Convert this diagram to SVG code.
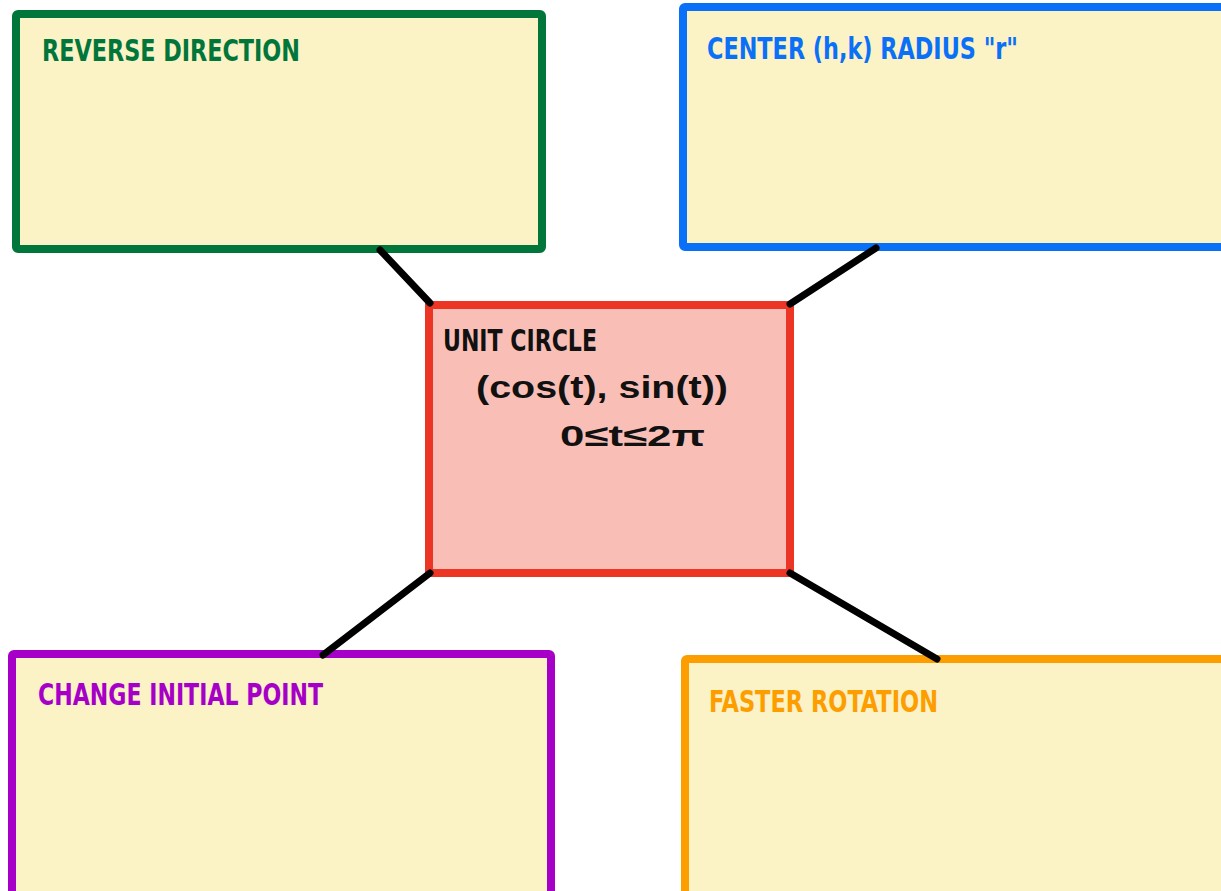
<svg xmlns="http://www.w3.org/2000/svg" width="1221" height="891" viewBox="0 0 1221 891">
<style>
.box{fill:#fbf2c6;stroke-width:8;stroke-linejoin:round}
.lbl{font-family:"Liberation Sans Narrow","DejaVu Sans Condensed","Liberation Sans",sans-serif;font-weight:bold;font-size:30px}
.hand{font-family:"Liberation Sans","DejaVu Sans",sans-serif;font-weight:bold;fill:#111}
.conn{stroke:#000;stroke-width:7;stroke-linecap:round;fill:none}
</style>
<rect width="1221" height="891" fill="#ffffff"/>
<g id="reverse-direction">
<rect class="box" x="16" y="14" width="526" height="235" rx="2" stroke="#00763b"/>
<text class="lbl" x="42" y="61" fill="#00763b" textLength="258" lengthAdjust="spacingAndGlyphs">REVERSE DIRECTION</text>
</g>
<g id="center-radius">
<rect class="box" x="683" y="7" width="542" height="240" rx="2" stroke="#0a70f8"/>
<text class="lbl" x="707" y="59" fill="#0a70f8" textLength="311" lengthAdjust="spacingAndGlyphs">CENTER (h,k) RADIUS "r"</text>
</g>
<g id="unit-circle">
<rect x="429" y="305" width="361" height="268" fill="#f9bfb7" stroke="#ec3524" stroke-width="8"/>
<text class="lbl" x="443" y="351" fill="#111" textLength="154" lengthAdjust="spacingAndGlyphs">UNIT CIRCLE</text>
<text class="hand" x="476" y="398" font-size="32" textLength="252" lengthAdjust="spacingAndGlyphs">(cos(t), sin(t))</text>
<text class="hand" x="560" y="446" font-size="30" textLength="145" lengthAdjust="spacingAndGlyphs">0≤t≤2π</text>
</g>
<g id="change-initial-point">
<rect class="box" x="12" y="654" width="539" height="245" rx="2" stroke="#a600c8"/>
<text class="lbl" x="38" y="705" fill="#a600c8" textLength="285" lengthAdjust="spacingAndGlyphs">CHANGE INITIAL POINT</text>
</g>
<g id="faster-rotation">
<rect class="box" x="685" y="659" width="540" height="240" rx="2" stroke="#fd9e00"/>
<text class="lbl" x="709" y="712" fill="#fd9e00" textLength="229" lengthAdjust="spacingAndGlyphs">FASTER ROTATION</text>
</g>
<g id="connectors">
<line class="conn" x1="380" y1="250" x2="430" y2="303"/>
<line class="conn" x1="876" y1="248" x2="790" y2="304"/>
<line class="conn" x1="430" y1="573" x2="323" y2="655"/>
<line class="conn" x1="790" y1="573" x2="937" y2="659"/>
</g>
</svg>
